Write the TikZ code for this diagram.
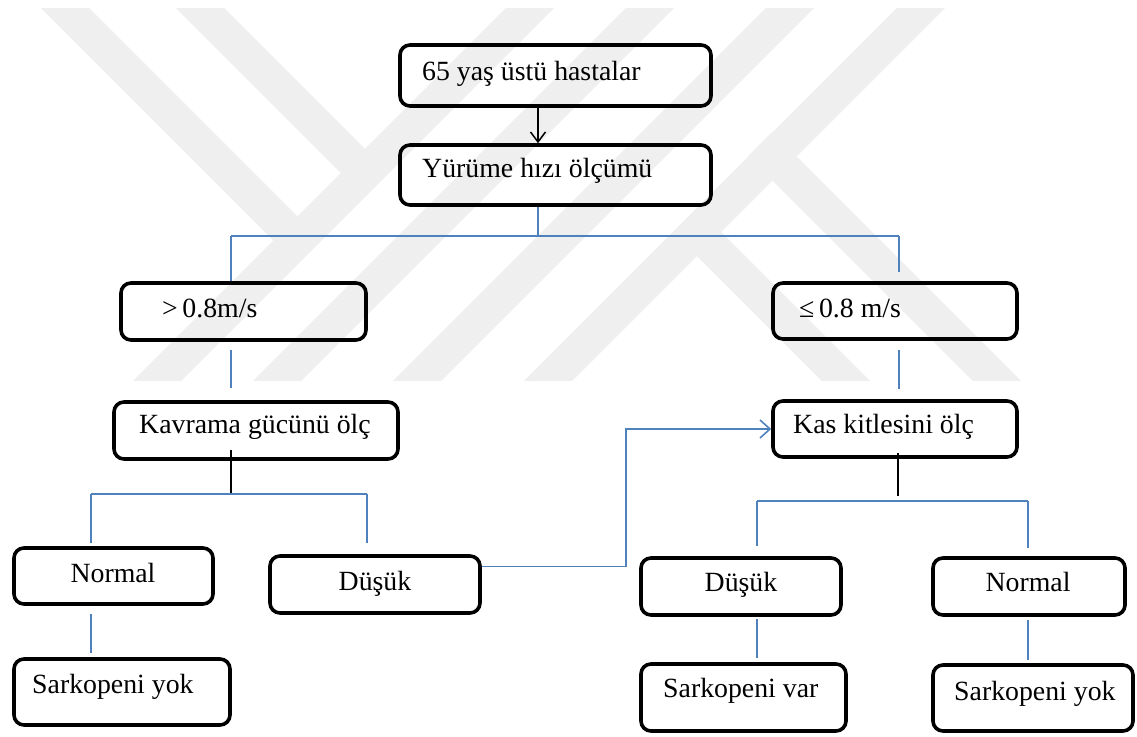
\documentclass[tikz,border=0pt]{standalone}
\usepackage{fontspec}
\setmainfont{Liberation Serif}
\usetikzlibrary{calc,arrows.meta}
\definecolor{blueC}{RGB}{79,129,189}
\definecolor{wmC}{RGB}{239,239,239}
\begin{document}
\begin{tikzpicture}[x=1pt,y=-1pt,
  box/.style={draw=black, line width=3.6pt, rounded corners=10pt, inner sep=0pt},
  txt/.style={inner sep=0pt, font=\fontsize{27.8}{33}\selectfont},
  bl/.style={draw=blueC, line width=1.6pt},
  blk/.style={draw=black, line width=1.5pt},
  wm/.style={draw=wmC, line width=34pt, line cap=butt}]
\useasboundingbox (0,0) rectangle (1137,736);
% watermark
\begin{scope}
\clip (0,8) rectangle (1137,380);
\draw[wm] (560,-22) -- (128,410);
\draw[wm] (680,-22) -- (248,410);
\draw[wm] (820,-22) -- (388,410);
\draw[wm] (951,-22) -- (519,410);
\draw[wm] (35,-22) -- (300,243);
\draw[wm] (170,-22) -- (370,178);
\draw[wm] (760,144) -- (1026,410);
\draw[wm] (685,220) -- (875,410);
\end{scope}
% boxes
\node[box, minimum width=311pt, minimum height=61pt] (b1) at (555.5,75.5) {};
\node[box, minimum width=311pt, minimum height=60pt] (b2) at (555.5,175) {};
\node[box, minimum width=245pt, minimum height=57pt] (b3) at (243.5,311.5) {};
\node[box, minimum width=244pt, minimum height=56pt] (b4) at (895,311) {};
\node[box, minimum width=284pt, minimum height=57pt] (b5) at (256,430.5) {};
\node[box, minimum width=244pt, minimum height=56pt] (b6) at (895,429) {};
\node[box, minimum width=199pt, minimum height=56pt] (b7) at (113.5,576) {};
\node[box, minimum width=210pt, minimum height=57pt] (b8) at (375,584.5) {};
\node[box, minimum width=216pt, minimum height=66pt] (b9) at (122,692) {};
\node[box, minimum width=200pt, minimum height=57pt] (b10) at (741,586.5) {};
\node[box, minimum width=205pt, minimum height=67pt] (b11) at (743.5,697.5) {};
\node[box, minimum width=192pt, minimum height=57pt] (b12) at (1029,586.5) {};
\node[box, minimum width=200pt, minimum height=66pt] (b13) at (1033,698) {};
% texts
\node[txt, anchor=base west] (t1) at (422,80) {65 yaş üstü hastalar};
\node[txt, anchor=base west] (t2) at (422,177) {Yürüme hızı ölçümü};
\node[txt, anchor=base west] (t3) at (162,317) {>\,0.8m/s};
\node[txt, anchor=base west] (t4) at (799,317) {≤\,0.8 m/s};
\node[txt, anchor=base west] (t5) at (139,433) {Kavrama gücünü ölç};
\node[txt, anchor=base west] (t6) at (793,433) {Kas kitlesini ölç};
\node[txt, anchor=base] (t7) at (113,582) {Normal};
\node[txt, anchor=base] (t8) at (375,590) {Düşük};
\node[txt, anchor=base west] (t9) at (32,693) {Sarkopeni yok};
\node[txt, anchor=base] (t10) at (741,591) {Düşük};
\node[txt, anchor=base west] (t11) at (663,697) {Sarkopeni var};
\node[txt, anchor=base] (t12) at (1028,591) {Normal};
\node[txt, anchor=base west] (t13) at (954,700) {Sarkopeni yok};
% junctions
\coordinate (j1) at (538,236);
\coordinate (jL) at (231,236);
\coordinate (jR) at (899,236);
\coordinate (j2) at (231,494);
\coordinate (j2L) at (91,494);
\coordinate (j2R) at (367,494);
\coordinate (j3) at (898,501);
\coordinate (j3L) at (757,501);
\coordinate (j3R) at (1028,501);
% connectors
\draw[blk, -{Straight Barb[length=10pt,width=15pt]}] ($(b1.south)+(-17.5,0)$) -- ($(b2.north)+(-17.5,0)$);
\draw[bl] ($(b2.south)+(-17.5,0)$) -- (j1);
\draw[bl] (jL) -- (jR);
\draw[bl] (jL) -- (b3.north -| jL);
\draw[bl] (jR) -- ($(b4.north -| jR)+(0,-9)$);
\draw[bl] ($(b3.south -| jL)+(0,8)$) -- ($(b5.north -| jL)+(0,-12)$);
\draw[bl] ($(b4.south -| jR)+(0,9)$) -- ($(b6.north -| jR)+(0,-10)$);
\draw[blk] ($(b5.south -| j2)+(0,-11)$) -- (j2);
\draw[bl] (j2L) -- (j2R);
\draw[bl] (j2L) -- ($(b7.north -| j2L)+(0,-3)$);
\draw[bl] (j2R) -- ($(b8.north -| j2R)+(0,-11)$);
\draw[bl] ($(b7.south -| j2L)+(0,8)$) -- ($(b9.north -| j2L)+(0,-4)$);
\draw[bl, -{Straight Barb[length=10pt,width=18pt]}] ($(b8.east)+(0,-18)$) -- ++(144,0) |- (b6.west);
\draw[blk] ($(b6.south -| j3)+(0,-6)$) -- ($(j3)+(0,-5)$);
\draw[bl] (j3L) -- (j3R);
\draw[bl] (j3L) -- ($(b10.north -| j3L)+(0,-10)$);
\draw[bl] (j3R) -- ($(b12.north -| j3R)+(0,-8)$);
\draw[bl] ($(b10.south -| j3L)+(0,2)$) -- ($(b11.north -| j3L)+(0,-4)$);
\draw[bl] ($(b12.south -| j3R)+(0,3)$) -- ($(b13.north -| j3R)+(0,-3)$);
\end{tikzpicture}
\end{document}
